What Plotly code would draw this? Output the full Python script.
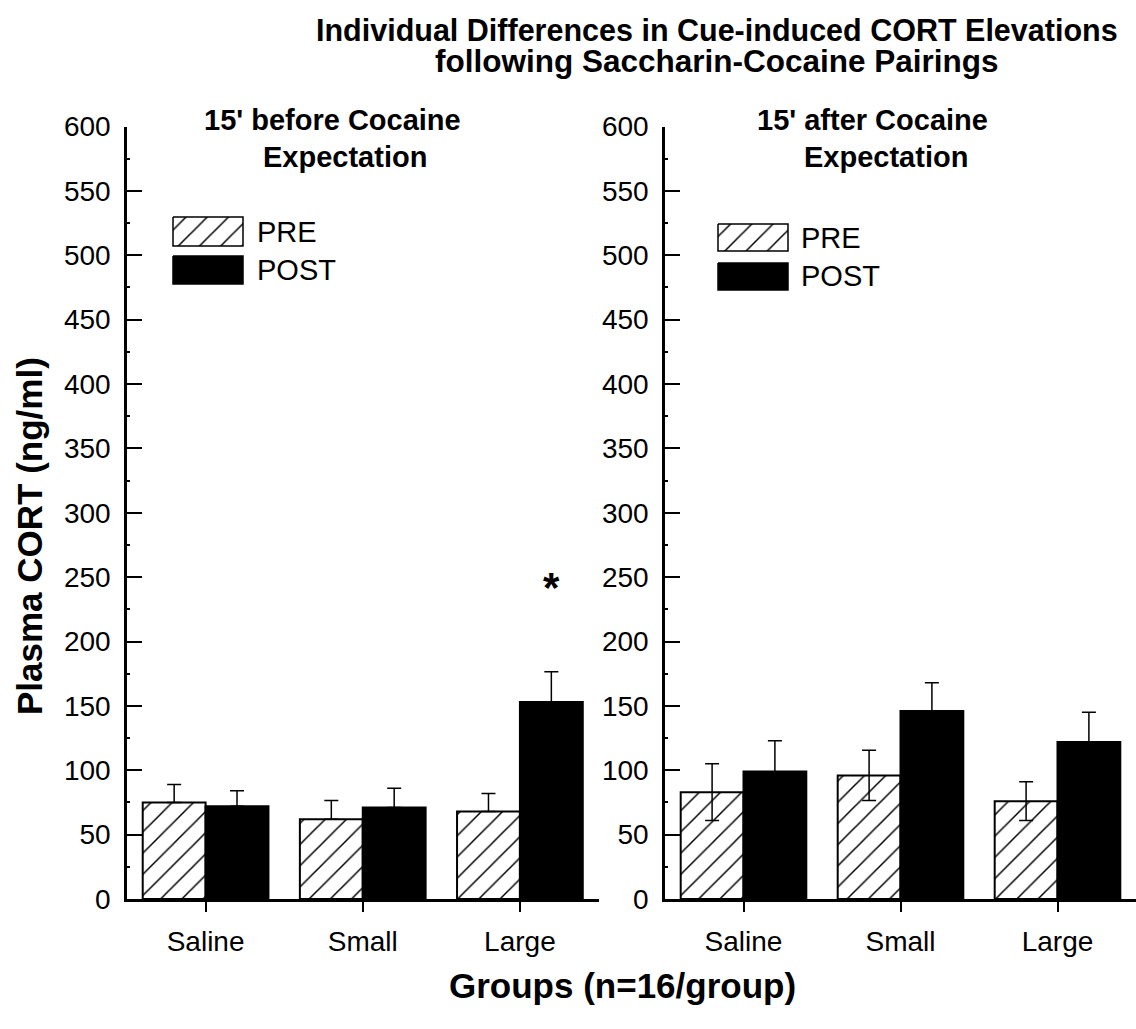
import plotly.graph_objects as go

# ---- data -------------------------------------------------------------
groups = ["Saline", "Small", "Large"]

before_pre = [75, 62, 68]
before_pre_sem = [14, 14.5, 14]
before_post = [72, 71, 153]
before_post_sem = [12, 15, 23.5]

after_pre = [83, 96, 76]
after_pre_sem = [22, 19.5, 15]
after_post = [99, 146, 122]
after_post_sem = [24, 22, 23]

y_ticks = list(range(0, 601, 50))
star_group = "Large"
star_level = 248

# ---- styling ----------------------------------------------------------
W, H = 1136, 1029
FONT = "Arial, Liberation Sans, sans-serif"
HATCH = dict(shape="/", size=15, solidity=0.1, fgcolor="black", fgopacity=1, bgcolor="white")


def px_x(v):
    return v / W


def px_y(v):
    return 1 - v / H


fig = go.Figure()


def add_panel(pre, pre_err, post, post_err, xa, ya, upper_only):
    minus_pre = [0] * len(pre) if upper_only else pre_err
    minus_post = [0] * len(post) if upper_only else post_err
    fig.add_trace(go.Bar(
        x=groups, y=pre, name="PRE", xaxis=xa, yaxis=ya, showlegend=False,
        marker=dict(color="white", pattern=HATCH, line=dict(color="black", width=2)),
        error_y=dict(type="data", array=pre_err, arrayminus=minus_pre, symmetric=False,
                     color="black", thickness=1.5, width=7),
    ))
    fig.add_trace(go.Bar(
        x=groups, y=post, name="POST", xaxis=xa, yaxis=ya, showlegend=False,
        marker=dict(color="black", line=dict(color="black", width=2)),
        error_y=dict(type="data", array=post_err, arrayminus=minus_post, symmetric=False,
                     color="black", thickness=1.5, width=7),
    ))


add_panel(before_pre, before_pre_sem, before_post, before_post_sem, "x", "y", True)
add_panel(after_pre, after_pre_sem, after_post, after_post_sem, "x2", "y2", False)

# legend keys drawn on a full-page pixel overlay
legend_keys = [
    # (x0, x1, y0, y1, hatched)
    (173, 243, 217, 246, True),
    (173, 243, 256, 284, False),
    (718, 788, 224, 251, True),
    (718, 788, 263, 290, False),
]
for x0, x1, y0, y1, hatched in legend_keys:
    fig.add_trace(go.Scatter(
        x=[x0, x1, x1, x0, x0], y=[y0, y0, y1, y1, y0], xaxis="x3", yaxis="y3",
        mode="lines", fill="toself", showlegend=False, hoverinfo="skip",
        line=dict(color="black", width=1.5),
        fillcolor="white" if hatched else "black",
        fillpattern=HATCH if hatched else None,
    ))

x_common = dict(
    type="category", range=[-0.5, 2.5], showline=True, linecolor="black", linewidth=2.5,
    ticks="outside", ticklen=10, tickwidth=2, tickcolor="black",
    tickfont=dict(family=FONT, size=28, color="black"), ticklabelstandoff=6,
    showgrid=False, zeroline=False, automargin=False,
)
y_common = dict(
    range=[0, 600], tickvals=y_ticks, showline=True, linecolor="black", linewidth=2.5,
    ticks="inside", ticklen=15, tickwidth=2, tickcolor="black",
    minor=dict(dtick=25, ticks="inside", ticklen=3, tickwidth=2, tickcolor="black"),
    tickfont=dict(family=FONT, size=28, color="black"), ticklabelstandoff=8,
    showgrid=False, zeroline=False, automargin=False,
)
y_dom = [px_y(899), px_y(126.5)]

fig.update_layout(
    width=W, height=H,
    margin=dict(l=0, r=0, t=0, b=0),
    paper_bgcolor="white", plot_bgcolor="rgba(0,0,0,0)",
    barmode="group", bargap=0.2, bargroupgap=0,
    xaxis=dict(x_common, domain=[px_x(127), px_x(598.5)], anchor="y"),
    yaxis=dict(y_common, domain=y_dom, anchor="x"),
    xaxis2=dict(x_common, domain=[px_x(665), px_x(1136)], anchor="y2"),
    yaxis2=dict(y_common, domain=y_dom, anchor="x2"),
    xaxis3=dict(domain=[0, 1], range=[0, W], visible=False, anchor="y3", fixedrange=True),
    yaxis3=dict(domain=[0, 1], range=[H, 0], visible=False, anchor="x3", fixedrange=True),
    showlegend=False,
)


def text(s, x, y, size, bold=False, angle=0, family=FONT):
    fig.add_annotation(
        text=f"<b>{s}</b>" if bold else s, x=px_x(x), y=px_y(y), xref="paper", yref="paper",
        xanchor="center", yanchor="middle", showarrow=False, textangle=angle,
        font=dict(family=family, size=size, color="black"),
    )


text("Individual Differences in Cue-induced CORT Elevations", 717, 30, 30.5, bold=True)
text("following Saccharin-Cocaine Pairings", 717, 61, 31.5, bold=True)
text("15' before Cocaine", 332, 120, 29, bold=True)
text("Expectation", 345, 157, 29, bold=True)
text("15' after Cocaine", 872, 120, 29, bold=True)
text("Expectation", 886, 157, 29, bold=True)
text("Plasma CORT (ng/ml)", 29, 536, 35, bold=True, angle=-90)
text("Groups (n=16/group)", 622, 985, 35, bold=True)

for label, x, y in [("PRE", 255, 232), ("POST", 255, 270), ("PRE", 799, 238), ("POST", 799, 276)]:
    fig.add_annotation(
        text=label, x=px_x(x), y=px_y(y), xref="paper", yref="paper",
        xanchor="left", yanchor="middle", showarrow=False,
        font=dict(family=FONT, size=29, color="black"),
    )

# significance marker above the large-group POST bar
fig.add_annotation(
    text="<b>*</b>", x=star_group, y=star_level, xref="x", yref="y", xshift=0.2 * 157,
    yshift=-8, showarrow=False, font=dict(family=FONT, size=42, color="black"),
)

fig.write_html("out.html")
